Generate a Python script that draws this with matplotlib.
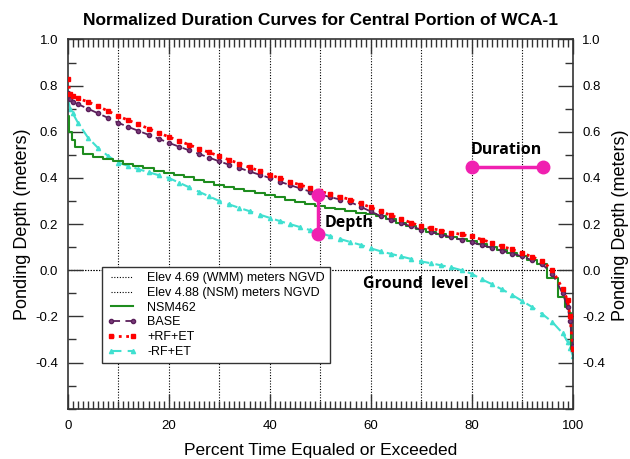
import numpy as np
import matplotlib
matplotlib.use('Agg')
import matplotlib.pyplot as plt
from matplotlib.ticker import MultipleLocator, FixedLocator

plt.rcParams['font.family'] = ['Liberation Sans', 'DejaVu Sans']

# percent time equaled or exceeded
pct = [0, 0.5, 1, 2, 4, 6, 8, 10, 12, 14, 16, 18, 20, 22, 24, 26, 28, 30,
       32, 34, 36, 38, 40, 42, 44, 46, 48, 50, 52, 54, 56, 58, 60, 62, 64,
       66, 68, 70, 72, 74, 76, 78, 80, 82, 84, 86, 88, 90, 92, 94, 96, 98,
       99, 99.5, 100]

# normalized ponding depth (meters)
nsm462 = [0.67, 0.60, 0.565, 0.535, 0.505, 0.492, 0.482, 0.472, 0.462, 0.452,
          0.442, 0.432, 0.422, 0.412, 0.402, 0.392, 0.381, 0.371, 0.362, 0.353,
          0.345, 0.336, 0.327, 0.316, 0.306, 0.296, 0.286, 0.277, 0.271, 0.264,
          0.257, 0.250, 0.243, 0.235, 0.221, 0.206, 0.192, 0.178, 0.167, 0.157,
          0.146, 0.136, 0.125, 0.113, 0.100, 0.087, 0.075, 0.062, 0.045, 0.025,
          -0.034, -0.118, -0.16, -0.185, -0.34]
base = [0.77, 0.74, 0.73, 0.72, 0.70, 0.68, 0.66, 0.639, 0.621, 0.604,
        0.587, 0.570, 0.552, 0.536, 0.520, 0.504, 0.488, 0.472, 0.457, 0.443,
        0.428, 0.414, 0.400, 0.384, 0.369, 0.355, 0.341, 0.328, 0.317, 0.306,
        0.295, 0.275, 0.255, 0.234, 0.219, 0.205, 0.190, 0.176, 0.165, 0.154,
        0.143, 0.132, 0.121, 0.109, 0.097, 0.085, 0.072, 0.060, 0.043, 0.025,
        -0.015, -0.10, -0.16, -0.22, -0.33]
rf_plus = [0.83, 0.765, 0.755, 0.745, 0.73, 0.71, 0.69, 0.668, 0.650, 0.632,
           0.614, 0.596, 0.578, 0.561, 0.544, 0.527, 0.511, 0.494, 0.478, 0.462,
           0.446, 0.430, 0.414, 0.399, 0.384, 0.370, 0.356, 0.342, 0.330, 0.318,
           0.306, 0.290, 0.272, 0.255, 0.238, 0.222, 0.206, 0.190, 0.181, 0.172,
           0.163, 0.155, 0.147, 0.133, 0.119, 0.104, 0.090, 0.075, 0.058, 0.040,
           0.0, -0.08, -0.13, -0.2, -0.34]
rf_minus = [0.74, 0.70, 0.68, 0.64, 0.575, 0.53, 0.495, 0.466, 0.452, 0.438,
            0.425, 0.412, 0.400, 0.380, 0.360, 0.340, 0.320, 0.300, 0.285, 0.270,
            0.256, 0.241, 0.227, 0.213, 0.200, 0.187, 0.174, 0.161, 0.148, 0.135,
            0.122, 0.110, 0.095, 0.082, 0.071, 0.060, 0.049, 0.038, 0.030, 0.021,
            0.012, 0.0, -0.015, -0.040, -0.060, -0.083, -0.107, -0.133, -0.160,
            -0.190, -0.225, -0.273, -0.31, -0.335, -0.37]

depth_x = [49.5, 49.5]
depth_y = [0.157, 0.325]
duration_x = [80, 94.2]
duration_y = [0.446, 0.446]

fig = plt.figure(figsize=(6.3, 4.59), dpi=100)
ax = fig.add_axes([0.1075, 0.1096, 0.8015, 0.8044])

# grid lines
for gx in range(10, 100, 10):
    ax.axvline(gx, color='black', lw=0.8, ls=(0, (1, 1.5)), zorder=1)

# ground level / elevation references
ax.plot([0, 100], [0, 0], color='black', lw=0.8, ls=(0, (1, 1.5)), zorder=1,
        label='Elev 4.69 (WMM) meters NGVD')
ax.plot([0, 100], [0, 0], color='black', lw=0.8, ls=(0, (1, 1.5)), zorder=1,
        label='Elev 4.88 (NSM) meters NGVD')

ax.plot(pct, nsm462, color='#1e8c1e', lw=1.5, drawstyle='steps-mid',
        label='NSM462', zorder=3)
ax.plot(pct, base, color='#5a1f5a', lw=1.3, ls=(0, (5, 3)), marker='o',
        ms=3, mfc='#7a3a7a', mec='#5a1f5a', label='BASE', zorder=4)
ax.plot(pct, rf_plus, color='#ff0000', lw=2, ls=':', marker='s', ms=3.5,
        label='+RF+ET', zorder=5)
ax.plot(pct, rf_minus, color='#40e0d0', lw=1.5, ls=(0, (5, 3)), marker='^',
        ms=3, label='-RF+ET', zorder=2)

# annotations
mag = '#f020b0'
ax.plot(depth_x, depth_y, color=mag, lw=2.5, marker='o', ms=9, zorder=6)
ax.plot(duration_x, duration_y, color=mag, lw=2.5, marker='o', ms=9, zorder=6)
ax.text(50.8, 0.206, 'Depth', fontsize=11.5, fontweight='bold',
        family=['Open Sans', 'DejaVu Sans'], va='center', ha='left', zorder=7)
ax.text(86.8, 0.52, 'Duration', fontsize=11.5, fontweight='bold',
        family=['Open Sans', 'DejaVu Sans'], va='center', ha='center', zorder=7)
ax.text(69, -0.06, 'Ground  level', fontsize=11.5, fontweight='bold',
        family=['Open Sans', 'DejaVu Sans'], va='center', ha='center', zorder=7)

ax.set_xlim(0, 100)
ax.set_ylim(-0.6, 1.0)
ax.xaxis.set_major_locator(MultipleLocator(20))
ax.xaxis.set_minor_locator(MultipleLocator(1))
ax.yaxis.set_major_locator(FixedLocator(np.arange(-0.4, 1.01, 0.2)))
ax.yaxis.set_minor_locator(MultipleLocator(0.1))
ax.set_yticklabels(['%.1f' % v for v in np.arange(-0.4, 1.01, 0.2)])
ax.tick_params(which='both', direction='in', top=True, right=True,
               labelright=True, labelsize=9.5, width=1, color='#333333')
ax.tick_params(which='major', length=11)
ax.tick_params(which='minor', length=5.5)
ax.tick_params(axis='y', which='major', pad=7)
ax.tick_params(axis='x', which='major', pad=8)
for s in ax.spines.values():
    s.set_linewidth(1.2)
    s.set_color('#333333')

ax.set_xlabel('Percent Time Equaled or Exceeded', fontsize=12.5, labelpad=8)
ax.set_ylabel('Ponding Depth (meters)', fontsize=13, labelpad=3)
fig.text(0.985, 0.51, 'Ponding Depth (meters)', fontsize=13, rotation=90,
         ha='center', va='center')

fig.text(0.508, 0.955, 'Normalized Duration Curves for Central Portion of WCA-1',
         fontsize=12.5, fontweight='bold', ha='center', va='center')

leg = ax.legend(loc='lower left', bbox_to_anchor=(0.068, 0.124), fontsize=9,
                numpoints=2, handlelength=2.4, handletextpad=0.8,
                labelspacing=0.22, borderpad=0.4, borderaxespad=0,
                fancybox=False, framealpha=1, edgecolor='#333333')
leg.get_frame().set_linewidth(1)
leg.set_zorder(10)

plt.savefig('out.png', dpi=100)
